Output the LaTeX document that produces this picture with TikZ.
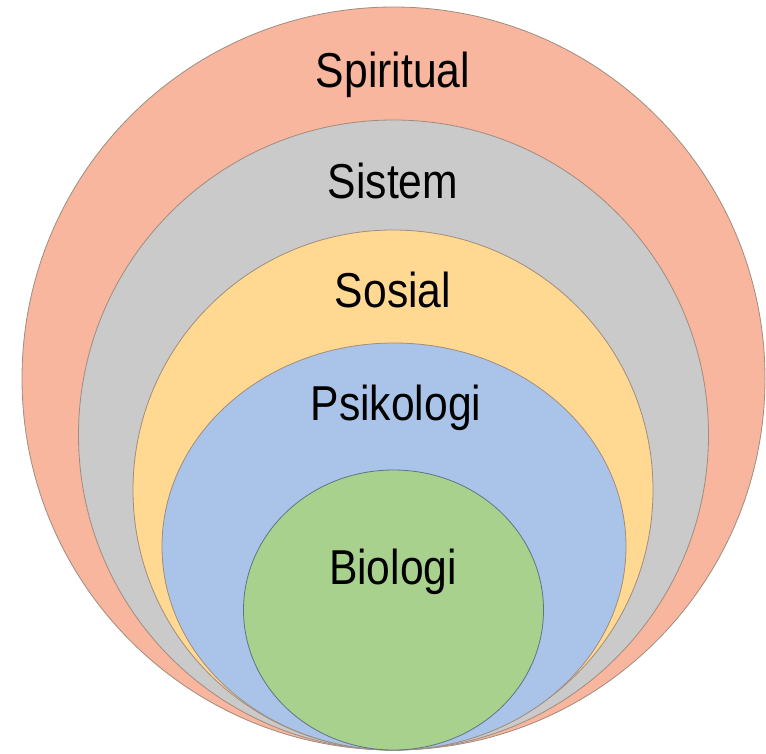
\documentclass[tikz,border=0pt]{standalone}
\usepackage{fontspec}
\setmainfont[FakeStretch=0.87]{Liberation Sans}
\definecolor{cpeach}{HTML}{F7B69D}
\definecolor{cgrey}{HTML}{CACACA}
\definecolor{cyellow}{HTML}{FFD891}
\definecolor{cblue}{HTML}{A9C4E8}
\definecolor{cgreen}{HTML}{A9D18E}
\definecolor{cedge}{HTML}{A08C80}
\definecolor{cedgeg}{HTML}{5F7484}
\tikzset{
  layer/.style={draw=cedge, line width=0.8pt},
  lbl/.style={anchor=base, inner sep=0pt, font=\fontsize{49}{55}\selectfont, text=black}
}
\begin{document}
\begin{tikzpicture}[x=1pt,y=-1pt]
\useasboundingbox (0,0) rectangle (766,753);
\fill[white] (0,0) rectangle (766,753);
\filldraw[layer, fill=cpeach] (393.5,378.5) ellipse [x radius=371.5pt, y radius=371.5pt];
\filldraw[layer, fill=cgrey] (393.5,435) ellipse [x radius=315pt, y radius=315pt];
\filldraw[layer, fill=cyellow] (393,490) ellipse [x radius=260pt, y radius=260pt];
\filldraw[layer, fill=cblue] (394,546.5) ellipse [x radius=232pt, y radius=203.5pt];
\filldraw[layer, draw=cedgeg, fill=cgreen] (393.5,610) ellipse [x radius=150pt, y radius=140pt];
\node[lbl] (spiritual) at (393,87) {Spiritual};
\node[lbl] (sistem) at (393,198) {Sistem};
\node[lbl] (sosial) at (393,307) {Sosial};
\node[lbl] (psikologi) at (396,420) {Psikologi};
\node[lbl] (biologi) at (393,584) {Biologi};
\end{tikzpicture}
\end{document}
